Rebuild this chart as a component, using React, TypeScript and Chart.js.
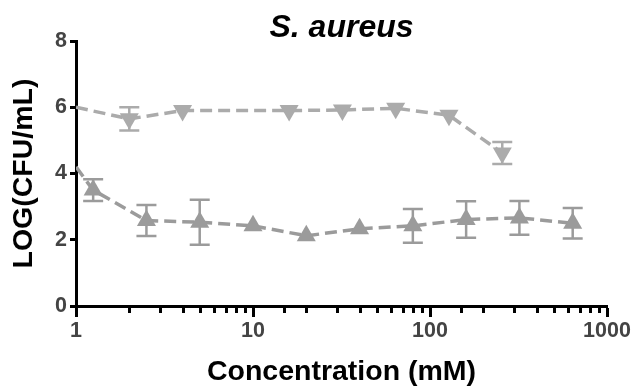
import React, { useEffect, useRef } from "react";
import { Chart, registerables } from "chart.js";

Chart.register(...registerables);

// Series 1 (downward triangles)
const concA = [1, 2, 4, 16, 32, 64, 128, 256];
const valsA = [6.0, 5.65, 5.9, 5.9, 5.92, 5.97, 5.76, 4.62];
const errA = [0, 0.35, 0, 0, 0, 0, 0, 0.33];

// Series 2 (upward triangles)
const concB = [1, 1.25, 2.5, 5, 10, 20, 40, 80, 160, 320, 640];
const valsB = [4.2, 3.5, 2.58, 2.53, 2.42, 2.12, 2.33, 2.42, 2.61, 2.66, 2.5];
const errB = [0, 0.33, 0.47, 0.68, 0, 0, 0, 0.51, 0.55, 0.51, 0.46];

const xLabels = [1, 10, 100, 1000];
const yTicks = [0, 2, 4, 6, 8];

const FONT = "'Liberation Sans', Arial, Helvetica, sans-serif";
const colorA = "#ababab";
const colorB = "#9b9b9b";

const errorBarPlugin = {
  id: "errorBars",
  beforeDatasetsDraw(chart: any) {
    const ctx = chart.ctx;
    const xs = chart.scales.x;
    const ys = chart.scales.y;
    chart.data.datasets.forEach((ds: any) => {
      const errs: number[] = ds.errors || [];
      ctx.save();
      ctx.strokeStyle = ds.borderColor;
      ctx.lineWidth = 2.5;
      ds.data.forEach((p: any, i: number) => {
        const e = errs[i];
        if (!e) return;
        const px = xs.getPixelForValue(p.x);
        const top = ys.getPixelForValue(p.y + e);
        const bot = ys.getPixelForValue(p.y - e);
        const cap = 10;
        ctx.beginPath();
        ctx.moveTo(px, top);
        ctx.lineTo(px, bot);
        ctx.moveTo(px - cap, top);
        ctx.lineTo(px + cap, top);
        ctx.moveTo(px - cap, bot);
        ctx.lineTo(px + cap, bot);
        ctx.stroke();
      });
      ctx.restore();
    });
  },
};

const minorTickPlugin = {
  id: "minorTicks",
  afterDraw(chart: any) {
    const ctx = chart.ctx;
    const xs = chart.scales.x;
    const y0 = chart.chartArea.bottom;
    ctx.save();
    ctx.strokeStyle = "#000";
    ctx.lineWidth = 3;
    xs.ticks.forEach((t: any) => {
      if (t.major) return;
      const px = Math.round(xs.getPixelForValue(t.value)) + 0.5;
      ctx.beginPath();
      ctx.moveTo(px, y0);
      ctx.lineTo(px, y0 + 7);
      ctx.stroke();
    });
    ctx.restore();
  },
};

export default function App() {
  const ref = useRef<HTMLCanvasElement>(null);
  useEffect(() => {
    document.body.style.margin = "0";
    const chart = new Chart(ref.current as HTMLCanvasElement, {
      type: "line",
      data: {
        datasets: [
          {
            label: "A",
            data: concA.map((x, i) => ({ x, y: valsA[i] })),
            errors: errA,
            borderColor: colorA,
            backgroundColor: colorA,
            borderWidth: 3.5,
            borderDash: [12, 6],
            pointStyle: "triangle",
            rotation: 180,
            pointRadius: concA.map((x) => (x === 1 ? 0 : 11)),
            pointBorderWidth: 0,
            tension: 0,
          } as any,
          {
            label: "B",
            data: concB.map((x, i) => ({ x, y: valsB[i] })),
            errors: errB,
            borderColor: colorB,
            backgroundColor: colorB,
            borderWidth: 3.5,
            borderDash: [12, 6],
            pointStyle: "triangle",
            pointRadius: concB.map((x) => (x === 1 ? 0 : 11)),
            pointBorderWidth: 0,
            tension: 0,
          } as any,
        ],
      },
      options: {
        animation: false,
        responsive: true,
        maintainAspectRatio: false,
        layout: { padding: { left: 0, right: 28, top: 0, bottom: 0 } },
        plugins: {
          legend: { display: false },
          tooltip: { enabled: false },
          title: {
            display: true,
            fullSize: false,
            text: "S. aureus",
            color: "#000",
            font: { family: FONT, size: 32, weight: "bold", style: "italic", lineHeight: 0.82 },
            padding: { top: 14.8, bottom: 0 },
          },
        },
        scales: {
          x: {
            type: "logarithmic",
            min: 1,
            max: 1000,
            afterFit(scale: any) {
              scale.height = 84;
            },
            border: { display: true, color: "#000", width: 3 },
            grid: {
              drawOnChartArea: false,
              drawTicks: true,
              tickLength: 11,
              tickWidth: 3,
              tickColor: (c: any) => (c.tick && c.tick.major ? "#000" : "rgba(0,0,0,0)"),
            },
            ticks: {
              autoSkip: false,
              maxRotation: 0,
              padding: 1,
              color: "#444",
              font: { family: FONT, size: 21.5, weight: "bold" },
              callback: (v: any) => (xLabels.includes(Number(v)) ? String(v) : ""),
            },
            title: {
              display: true,
              text: "Concentration (mM)",
              color: "#000",
              font: { family: FONT, size: 28.5, weight: "bold" },
              padding: { top: 0, bottom: 1 },
            },
          },
          y: {
            min: 0,
            max: 8,
            afterFit(scale: any) {
              scale.width = 76;
            },
            afterBuildTicks(scale: any) {
              scale.ticks = yTicks.map((v) => ({ value: v }));
            },
            border: { display: true, color: "#000", width: 3 },
            grid: {
              drawOnChartArea: false,
              drawTicks: true,
              tickLength: 6,
              tickWidth: 3,
              tickColor: "#000",
            },
            ticks: {
              padding: 3,
              color: "#444",
              font: { family: FONT, size: 21.5, weight: "bold" },
            },
            title: {
              display: true,
              text: "LOG(CFU/mL)",
              color: "#000",
              font: { family: FONT, size: 28.5, weight: "bold" },
              padding: { top: 7, bottom: 0 },
            },
          },
        },
      },
      plugins: [errorBarPlugin, minorTickPlugin],
    } as any);
    return () => chart.destroy();
  }, []);
  return (
    <div style={{ width: 635, height: 390, position: "relative" }}>
      <canvas ref={ref} />
    </div>
  );
}
